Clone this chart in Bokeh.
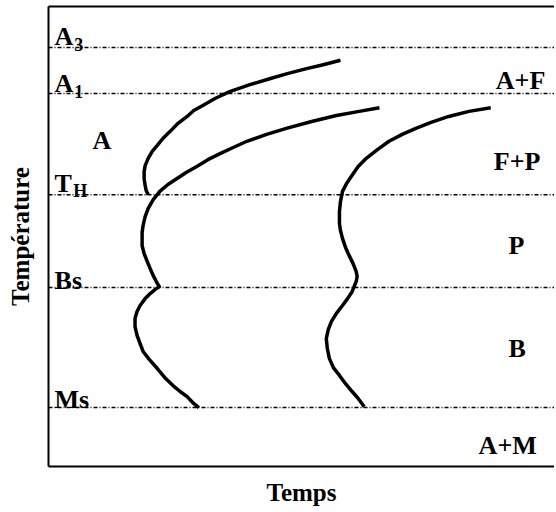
from bokeh.plotting import figure
from bokeh.models import Range1d, FixedTicker, LinearAxis, ColumnDataSource
from bokeh.core.properties import value
from bokeh.embed import file_html
from bokeh.resources import INLINE

FONT = "Liberation Serif"

# critical temperature levels (arbitrary 0-100 scale)
level_names = ["A3", "A1", "TH", "Bs", "Ms"]
level_temps = [91.1, 81.1, 59.1, 38.9, 12.8]

# curve 1 : start of ferrite formation
c1_time = [57.7, 54.5, 51.0, 47.2, 43.7, 39.8, 35.8, 32.9, 30.5, 28.7, 27.4, 25.6,
           24.0, 22.6, 21.5, 20.5, 19.7, 19.1, 18.9, 18.9, 19.1, 19.3, 19.7]
c1_temp = [88.3, 87.4, 86.5, 85.4, 84.3, 83.0, 81.5, 80.0, 78.5, 77.4, 76.1, 74.6,
           72.8, 71.3, 69.8, 68.5, 67.0, 65.4, 64.1, 62.6, 61.1, 60.0, 59.1]

# curve 2 : start of transformation (pearlite / bainite)
c2_time = [65.4, 61.4, 56.9, 52.0, 47.0, 43.1, 39.2, 36.4, 33.9, 31.5, 29.3, 27.2,
           25.4, 23.6, 22.0, 20.7, 19.7, 19.1, 18.7, 18.5, 18.5, 18.5, 18.9, 19.5,
           20.1, 20.7, 21.3, 21.9, 21.1, 20.1, 19.1, 18.1, 17.5, 17.1, 17.1, 17.5,
           18.1, 18.7, 19.9, 21.5, 23.0, 24.6, 26.0, 27.4, 28.5, 29.7]
c2_temp = [78.0, 77.2, 76.3, 75.0, 73.5, 72.2, 70.7, 69.3, 68.0, 66.7, 65.2, 63.9,
           62.6, 61.3, 59.8, 58.0, 56.1, 54.3, 52.4, 50.9, 49.6, 48.0, 46.3, 44.6,
           43.0, 41.5, 40.2, 39.1, 38.5, 37.6, 36.5, 35.0, 33.7, 32.2, 30.4, 28.5,
           26.7, 25.0, 23.3, 21.3, 19.3, 17.6, 16.3, 15.2, 13.9, 12.8]

# curve 3 : end of transformation
c3_time = [87.4, 83.1, 79.1, 75.6, 72.6, 69.9, 67.3, 65.0, 62.8, 61.2, 60.0, 58.9,
           58.1, 57.7, 57.5, 57.5, 57.7, 58.1, 58.7, 59.4, 60.2, 60.8, 61.0, 60.8,
           60.4, 60.0, 59.1, 58.1, 56.9, 55.9, 55.3, 54.9, 55.1, 55.5, 56.3, 57.5,
           58.7, 60.0, 61.2, 62.4]
c3_temp = [78.0, 77.2, 76.1, 74.8, 73.5, 72.2, 70.7, 68.9, 67.0, 65.2, 63.3, 61.5,
           59.8, 57.6, 55.4, 52.8, 51.3, 49.6, 47.6, 45.9, 44.1, 42.4, 41.3, 40.2,
           39.1, 38.0, 36.5, 35.0, 33.3, 31.5, 29.8, 27.8, 25.7, 23.5, 21.5, 19.8,
           18.0, 16.3, 14.8, 13.0]

# main labels
lab_text = ["A", "A", "T", "Bs", "Ms", "A", "A+F", "F+P", "P", "B", "A+M"]
lab_x = [1.2, 1.2, 1.2, 1.2, 1.2, 8.7, 88.4, 88.0, 90.9, 90.9, 85.0]
lab_y = [93.5, 83.3, 61.5, 40.4, 14.6, 70.9, 83.9, 66.3, 48.0, 25.7, 4.6]

# subscripts
sub_text = ["3", "1", "H"]
sub_x = [5.1, 5.1, 4.9]
sub_y = [91.7, 81.5, 59.8]

X_MIN, X_MAX = 0, 100
Y_MIN, Y_MAX = 0, 100

p = figure(frame_width=506, frame_height=460,
           x_range=Range1d(X_MIN, X_MAX), y_range=Range1d(Y_MIN, Y_MAX),
           output_backend="svg", toolbar_location=None,
           x_axis_label="Temps", y_axis_label="Température",
           min_border_left=48, min_border_right=0, min_border_top=6, min_border_bottom=44)
p.outline_line_color = None
p.xgrid.visible = False
p.ygrid.visible = False
p.background_fill_color = "white"
p.border_fill_color = "white"

top_axis = LinearAxis()
p.add_layout(top_axis, "above")

for ax in [p.below[0], p.left[0], top_axis]:
    ax.ticker = FixedTicker(ticks=[])
    ax.major_tick_line_color = None
    ax.minor_tick_line_color = None
    ax.major_label_text_font_size = "0px"
    ax.major_label_standoff = 0
    ax.major_tick_out = 0
    ax.major_tick_in = 0
    ax.minor_tick_out = 0
    ax.minor_tick_in = 0
    ax.axis_line_color = "black"
    ax.axis_line_width = 2
    ax.axis_label_text_font = FONT
    ax.axis_label_text_font_style = "bold"
    ax.axis_label_text_font_size = "25px"
    ax.axis_label_text_color = "black"

p.below[0].axis_label_standoff = 12
p.left[0].axis_label_standoff = 15

# horizontal dash-dot temperature levels
lev = ColumnDataSource(dict(x0=[X_MIN] * len(level_temps), x1=[X_MAX] * len(level_temps),
                            y=level_temps, name=level_names))
p.segment(x0="x0", x1="x1", y0="y", y1="y", source=lev,
          line_color="black", line_width=1.5, line_dash="4 2 1 2")

for tx, ty in [(c1_time, c1_temp), (c2_time, c2_temp), (c3_time, c3_temp)]:
    p.line(tx, ty, line_color="black", line_width=3.5, line_join="round", line_cap="butt")

p.text(x=lab_x, y=lab_y, text=lab_text, text_font=value(FONT), text_font_style="bold",
       text_font_size="26px", text_color="black", text_baseline="alphabetic", text_align="left")
p.text(x=sub_x, y=sub_y, text=sub_text, text_font=value(FONT), text_font_style="bold",
       text_font_size="18px", text_color="black", text_baseline="alphabetic", text_align="left")

open("out.html", "w").write(file_html(p, INLINE))
